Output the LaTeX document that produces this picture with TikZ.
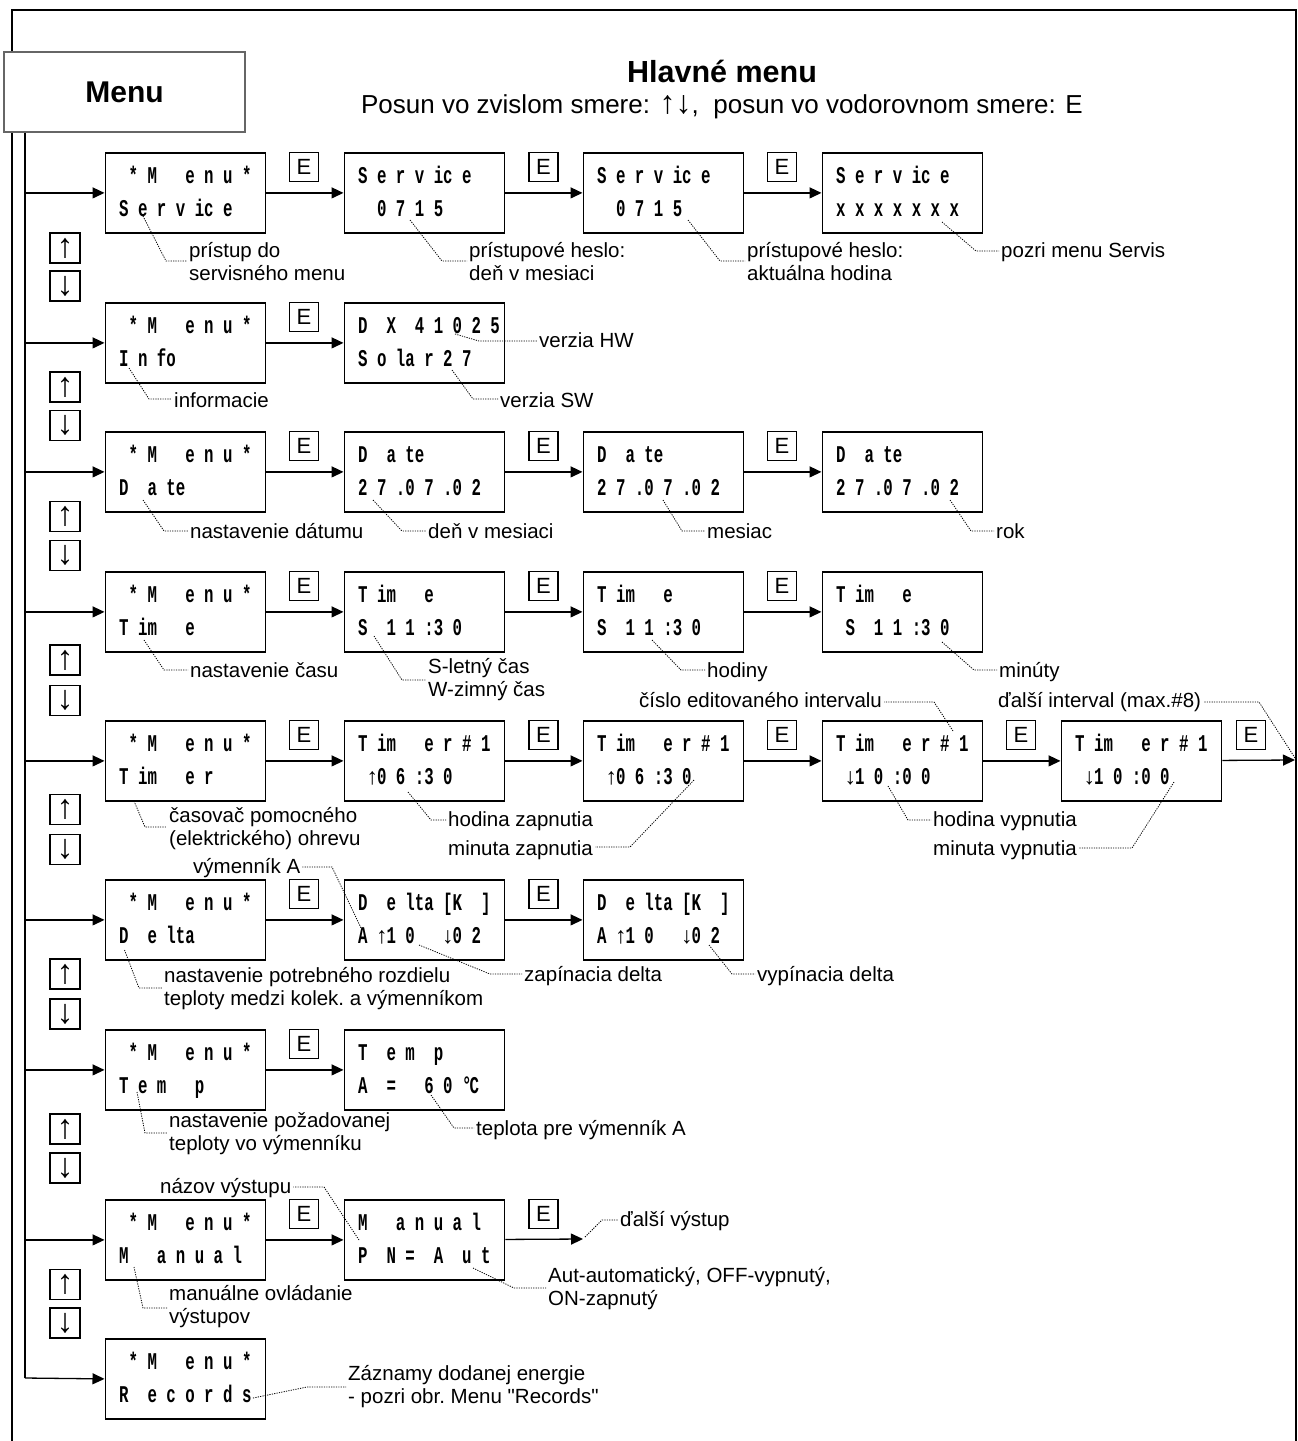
\documentclass[tikz,border=0pt]{standalone}
\usepackage{fontspec}
\setmainfont{Liberation Sans}[Ligatures=TeXOff]
\newfontfamily\lcdfont{Liberation Mono}[FakeStretch=0.656]
\usetikzlibrary{arrows.meta,calc}
\newcommand\lcdf{\lcdfont\bfseries\fontsize{24}{24}\selectfont}
\newcommand\annf{\fontsize{20.5}{23.5}\selectfont}
\newcommand\annt[1]{\begin{tabular}[t]{@{}l@{}}#1\end{tabular}}
\newcommand\mn{~*~M~~~e~n~u~*}
\newcommand\lup{\makebox[9.45pt]{\normalfont\fontsize{23}{23}\selectfont ↑}}
\newcommand\ldn{\makebox[9.45pt]{\normalfont\fontsize{23}{23}\selectfont ↓}}
\newcommand\lcdbox[4]{%
  \node[lcd, anchor=north west] (#1) at (#2) {};
  \node[lcdtxt] (#1a) at ($(#1.north west)+(14.5,31)$) {#3};
  \node[lcdtxt] (#1b) at ($(#1.north west)+(14.5,64)$) {#4};}
\newcommand\leadW[3]{\coordinate (#1s) at (#2);\coordinate (#1k) at (#3);
  \draw[leader] (#1s) -- (#1k) -- ($(#1k -| #1.west)+(-2,0)$);}
\newcommand\leadE[3]{\coordinate (#1s) at (#2);\coordinate (#1k) at (#3);
  \draw[leader] (#1s) -- (#1k) -- ($(#1k -| #1.east)+(2,0)$);}
\begin{document}
\begin{tikzpicture}[x=1pt,y=-1pt,
  lcd/.style={draw, line width=1.8pt, minimum width=160pt, minimum height=80pt, inner sep=0pt},
  lcdtxt/.style={anchor=base west, inner sep=0pt, font=\lcdf},
  ebox/.style={draw, line width=1.3pt, minimum width=29pt, minimum height=29pt, inner sep=0pt, font=\fontsize{22}{22}\selectfont},
  udbox/.style={draw, line width=1.5pt, minimum width=30pt, minimum height=30pt, inner sep=0pt, font=\fontsize{34}{34}\selectfont},
  ann/.style={anchor=base west, inner sep=0pt, font=\annf},
  arr/.style={line width=1.3pt, -{Triangle[length=12pt,width=11pt]}},
  leader/.style={line width=0.8pt, dash pattern=on 1.2pt off 1.2pt},
]
\useasboundingbox (0,0) rectangle (1298,1441);
% outer frame
\draw[line width=2pt] (12,1470) -- (12,10) -- (1296,10) -- (1296,1470);
% Menu box
\node[draw=black!60, line width=1.5pt, fill=white, minimum width=241pt, minimum height=80pt, inner sep=0pt,
  font=\bfseries\fontsize{30}{30}\selectfont] (menu) at (124.5,92) {Menu};
% titles
\node[anchor=base, inner sep=0pt, font=\bfseries\fontsize{30.5}{30.5}\selectfont] (title) at (722,82) {Hlavné menu};
\node[anchor=base, inner sep=0pt, font=\fontsize{26}{26}\selectfont] (sub) at (722,113) {Posun vo zvislom smere: {\fontsize{32}{26}\selectfont ↑↓},~ posun vo vodorovnom smere: E};

% LCD boxes
\lcdbox{c0r1}{104.5,152}{\mn}{S~e~r~v~ic~e}
\lcdbox{c1r1}{343.5,152}{S~e~r~v~ic~e}{~~0~7~1~5}
\lcdbox{c2r1}{582.5,152}{S~e~r~v~ic~e}{~~0~7~1~5}
\lcdbox{c3r1}{821.5,152}{S~e~r~v~ic~e}{x~x~x~x~x~x~x}

\lcdbox{c0r2}{104.5,302}{\mn}{I~n~fo}
\lcdbox{c1r2}{343.5,302}{D~~X~~4~1~0~2~5}{S~o~la~r~2~7}

\lcdbox{c0r3}{104.5,431}{\mn}{D~~a~te}
\lcdbox{c1r3}{343.5,431}{D~~a~te}{2~7~.0~7~.0~2}
\lcdbox{c2r3}{582.5,431}{D~~a~te}{2~7~.0~7~.0~2}
\lcdbox{c3r3}{821.5,431}{D~~a~te}{2~7~.0~7~.0~2}

\lcdbox{c0r4}{104.5,571}{\mn}{T~im~~~e}
\lcdbox{c1r4}{343.5,571}{T~im~~~e}{S~~1~1~:3~0}
\lcdbox{c2r4}{582.5,571}{T~im~~~e}{S~~1~1~:3~0}
\lcdbox{c3r4}{821.5,571}{T~im~~~e}{~S~~1~1~:3~0}

\lcdbox{c0r5}{104.5,720}{\mn}{T~im~~~e~r}
\lcdbox{c1r5}{343.5,720}{T~im~~~e~r~\#~1}{~\lup0~6~:3~0}
\lcdbox{c2r5}{582.5,720}{T~im~~~e~r~\#~1}{~\lup0~6~:3~0}
\lcdbox{c3r5}{821.5,720}{T~im~~~e~r~\#~1}{~\ldn1~0~:0~0}
\lcdbox{c4r5}{1060.5,720}{T~im~~~e~r~\#~1}{~\ldn1~0~:0~0}

\lcdbox{c0r6}{104.5,879}{\mn}{D~~e~lta}
\lcdbox{c1r6}{343.5,879}{D~~e~lta~[K~~]}{A~\lup1~0~~~\ldn0~2}
\lcdbox{c2r6}{582.5,879}{D~~e~lta~[K~~]}{A~\lup1~0~~~\ldn0~2}

\lcdbox{c0r7}{104.5,1029}{\mn}{T~e~m~~~p}
\lcdbox{c1r7}{343.5,1029}{T~~e~m~~p}{A~~=~~~6~0~°\kern-2pt C}

\lcdbox{c0r8}{104.5,1199}{\mn}{M~~~a~n~u~a~l}
\lcdbox{c1r8}{343.5,1199}{M~~~a~n~u~a~l}{P~~N~=~~A~~u~t}

\lcdbox{c0r9}{104.5,1338}{\mn}{R~~e~c~o~r~d~s}

% bus and row arrows
\coordinate (bustop) at (25,132.5);
\coordinate (busbot) at (25,1378);
\draw[line width=1.3pt] (bustop) -- (busbot);
\draw[arr] (busbot) -- (c0r9.west);
\foreach \r in {1,...,8} \draw[arr] (c0r\r.west -| bustop) -- (c0r\r.west);

% horizontal arrows
\draw[arr] (c0r1) -- (c1r1); \draw[arr] (c1r1) -- (c2r1); \draw[arr] (c2r1) -- (c3r1);
\draw[arr] (c0r2) -- (c1r2);
\draw[arr] (c0r3) -- (c1r3); \draw[arr] (c1r3) -- (c2r3); \draw[arr] (c2r3) -- (c3r3);
\draw[arr] (c0r4) -- (c1r4); \draw[arr] (c1r4) -- (c2r4); \draw[arr] (c2r4) -- (c3r4);
\draw[arr] (c0r5) -- (c1r5); \draw[arr] (c1r5) -- (c2r5); \draw[arr] (c2r5) -- (c3r5); \draw[arr] (c3r5) -- (c4r5);
\coordinate (tEnd) at (1295,760);
\draw[arr] (c4r5) -- (tEnd);
\draw[arr] (c0r6) -- (c1r6); \draw[arr] (c1r6) -- (c2r6);
\draw[arr] (c0r7) -- (c1r7);
\draw[arr] (c0r8) -- (c1r8);
\coordinate (mEnd) at (583,1239);
\draw[arr] (c1r8) -- (mEnd);

% E boxes
\node[ebox] (e1a) at (304,167) {E}; \node[ebox] (e1b) at (543.5,167) {E}; \node[ebox] (e1c) at (782,167) {E};
\node[ebox] (e2a) at (304,317) {E};
\node[ebox] (e3a) at (304,446) {E}; \node[ebox] (e3b) at (543.5,446) {E}; \node[ebox] (e3c) at (782,446) {E};
\node[ebox] (e4a) at (304,586) {E}; \node[ebox] (e4b) at (543.5,586) {E}; \node[ebox] (e4c) at (782,586) {E};
\node[ebox] (e5a) at (304,735) {E}; \node[ebox] (e5b) at (543.5,735) {E}; \node[ebox] (e5c) at (782,735) {E};
\node[ebox] (e5d) at (1021,735) {E}; \node[ebox] (e5e) at (1251,735) {E};
\node[ebox] (e6a) at (304,894) {E}; \node[ebox] (e6b) at (543.5,894) {E};
\node[ebox] (e7a) at (304,1044) {E};
\node[ebox] (e8a) at (304,1214) {E}; \node[ebox] (e8b) at (543.5,1214) {E};

% up/down keys
\foreach \i/\u/\d in {1/248/286, 2/387/425.5, 3/516.5/555.5, 4/660/700.5, 5/809.5/849.5, 6/974/1014, 7/1129/1168, 8/1284.5/1323}{
  \node[udbox] (up\i) at (65,\u) {↑};
  \node[udbox] (dn\i) at (65,\d) {↓};
}

% annotations
\node[ann] (a1) at (189,257) {\annt{prístup do\\servisného menu}}; \leadW{a1}{143,216}{166,261}
\node[ann] (a2) at (469,257) {\annt{prístupové heslo:\\deň v mesiaci}}; \leadW{a2}{410,220}{442,261}
\node[ann] (a3) at (747,257) {\annt{prístupové heslo:\\aktuálna hodina}}; \leadW{a3}{688,220}{720,261}
\node[ann] (a4) at (1001,257) {pozri menu Servis}; \leadW{a4}{942,222}{976,251}

\node[ann] (b1) at (174,407) {informacie}; \leadW{b1}{129,368}{149,399}
\node[ann] (b2) at (539,347) {verzia HW}; \leadW{b2}{455,334}{479,341}
\node[ann] (b3) at (500,407) {verzia SW}; \leadW{b3}{452,370}{473,399}

\node[ann] (n1) at (190,538) {nastavenie dátumu}; \leadW{n1}{143,500}{164,531}
\node[ann] (n2) at (428,538) {deň v mesiaci}; \leadW{n2}{373,500}{402,531}
\node[ann] (n3) at (707,538) {mesiac}; \leadW{n3}{663,500}{682,531}
\node[ann] (n4) at (996,538) {rok}; \leadW{n4}{950,500}{971,531}

\node[ann] (d1) at (190,677) {nastavenie času}; \leadW{d1}{144,640}{164,670}
\node[ann] (d2) at (428,673) {\annt{S-letný čas\\W-zimný čas}}; \leadW{d2}{374,636}{402,680}
\node[ann] (d3) at (707,677) {hodiny}; \leadW{d3}{652,640}{681,670}
\node[ann] (d4) at (999,677) {minúty}; \leadW{d4}{942,642}{974,670}

\node[ann] (t1) at (169,822) {\annt{časovač pomocného\\(elektrického) ohrevu}}; \leadW{t1}{134,801}{145,827}
\node[ann] (t2) at (448,826) {hodina zapnutia}; \leadW{t2}{408,792}{431,820}
\node[ann] (t3) at (448,855) {minuta zapnutia}; \leadE{t3}{694,780}{630,847}
\node[ann] (t4) at (639,707) {číslo editovaného intervalu}; \leadE{t4}{953,731}{934,702}
\node[ann] (t5) at (998,707) {ďalší interval (max.\#8)}; \leadE{t5}{1295,758}{1259,702}
\node[ann] (t6) at (933,826) {hodina vypnutia}; \leadW{t6}{888,786}{908,820}
\node[ann] (t7) at (933,855) {minuta vypnutia}; \leadE{t7}{1174,782}{1132,848}

\node[ann] (f1) at (193,873) {výmenník A}; \leadE{f1}{362,930}{332,867}
\node[ann] (f2) at (164,982) {\annt{nastavenie potrebného rozdielu\\teploty medzi kolek.\ a výmenníkom}}; \leadW{f2}{124.5,950}{139,988}
\node[ann] (f3) at (524,981) {zapínacia delta}; \leadW{f3}{419,945}{490,974}
\node[ann] (f4) at (757,981) {vypínacia delta}; \leadW{f4}{709,945}{732,974}

\node[ann] (g1) at (169,1127) {\annt{nastavenie požadovanej\\teploty vo výmenníku}}; \leadW{g1}{137,1092}{145,1133}
\node[ann] (g2) at (476,1135) {teplota pre výmenník A}; \leadW{g2}{431,1095}{454,1128}

\node[ann] (h1) at (160,1193) {názov výstupu}; \leadE{h1}{359,1240}{324,1187}
\node[ann] (h2) at (169,1300) {\annt{manuálne ovládanie\\výstupov}}; \leadW{h2}{134,1267}{143,1308}
\node[ann] (h3) at (548,1282) {\annt{Aut-automatický, OFF-vypnutý,\\ON-zapnutý}}; \leadW{h3}{473,1268}{514,1288}
\node[ann] (h4) at (620,1226) {ďalší výstup}; \leadW{h4}{585,1237}{602,1220}

\node[ann] (i1) at (348,1380) {\annt{Záznamy dodanej energie\\- pozri obr.\ Menu "Records"}}; \leadW{i1}{253,1398}{307,1387}
\end{tikzpicture}
\end{document}
